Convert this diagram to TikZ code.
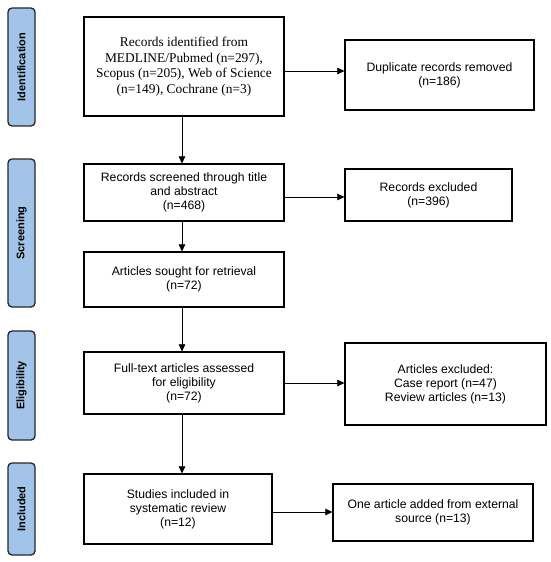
\documentclass[tikz,border=0pt]{standalone}
\usepackage{fontspec}
\setmainfont{Liberation Serif}
\setsansfont{Liberation Sans}
\usetikzlibrary{arrows.meta}
\definecolor{phaseblue}{HTML}{A3C4E9}
\definecolor{phaseedge}{HTML}{262626}
\begin{document}
\begin{tikzpicture}[x=1pt,y=-1pt,
  box/.style={draw=black,line width=1.2pt,fill=white,inner sep=2pt,align=center,
    font=\sffamily\fontsize{12.2}{14}\selectfont},
  serifbox/.style={box,font=\rmfamily\fontsize{13.4}{15.5}\selectfont},
  phase/.style={draw=phaseedge,line width=1.3pt,fill=phaseblue,rounded corners=4pt,inner sep=0pt},
  phasetext/.style={rotate=90,font=\sffamily\bfseries\fontsize{11}{12}\selectfont},
  arr/.style={-{Triangle[length=7pt,width=6.5pt]},line width=0.6pt}]
\useasboundingbox (0,0) rectangle (550,562);
% phase boxes
\newcommand{\phasebox}[4]{%
  \node[phase,minimum width=27pt,minimum height=#3-#2 pt] (#1) at (21.5,{(#2+#3)/2}) {};
  \node[phasetext] (#1t) at (#1.center) {#4};}
\phasebox{pid}{8}{126}{Identification}
\phasebox{psc}{159}{307}{Screening}
\phasebox{pel}{331}{440}{Eligibility}
\phasebox{pin}{463}{555}{Included}
% main boxes
\node[serifbox,minimum width=200pt,minimum height=99pt] (b1) at (184,66.5)
  {Records identified from\\MEDLINE/Pubmed (n=297),\\Scopus (n=205), Web of Science\\(n=149), Cochrane (n=3)};
\node[box,minimum width=189pt,minimum height=70pt] (d1) at (439.5,75)
  {Duplicate records removed\\(n=186)};
\node[box,minimum width=200pt,minimum height=57pt] (b2) at (184,192.5)
  {Records screened through title\\and abstract\\(n=468)};
\node[box,minimum width=167pt,minimum height=52pt] (d2) at (428.5,195)
  {Records excluded\\(n=396)};
\node[box,minimum width=200pt,minimum height=55pt] (b3) at (184,279.5)
  {Articles sought for retrieval\\(n=72)};
\node[box,minimum width=200pt,minimum height=62pt] (b4) at (184,383)
  {Full-text articles assessed\\for eligibility\\(n=72)};
\node[box,minimum width=201pt,minimum height=82pt] (d4) at (445.5,384)
  {Articles excluded:\\ Case report (n=47)\\Review articles (n=13)};
\node[box,minimum width=188pt,minimum height=70pt] (b5) at (178,509)
  {Studies included in\\systematic review\\(n=12)};
\node[box,minimum width=200pt,minimum height=57pt] (d5) at (433,512.5)
  {One article added from external\\source (n=13)};
% vertical arrows
\draw[arr] (b1.south -| 182,0) -- (b2.north -| 182,0);
\draw[arr] (b2.south -| 182,0) -- (b3.north -| 182,0);
\draw[arr] (b3.south -| 182,0) -- (b4.north -| 182,0);
\draw[arr] (b4.south -| 182,0) -- (b5.north -| 182,0);
% horizontal arrows
\draw[arr] (b1.east |- 0,71) -- (d1.west |- 0,71);
\draw[arr] (b2.east |- 0,197) -- (d2.west |- 0,197);
\draw[arr] (b4.east |- 0,383) -- (d4.west |- 0,383);
\draw[arr] (b5.east |- 0,512) -- (d5.west |- 0,512);
\end{tikzpicture}
\end{document}
